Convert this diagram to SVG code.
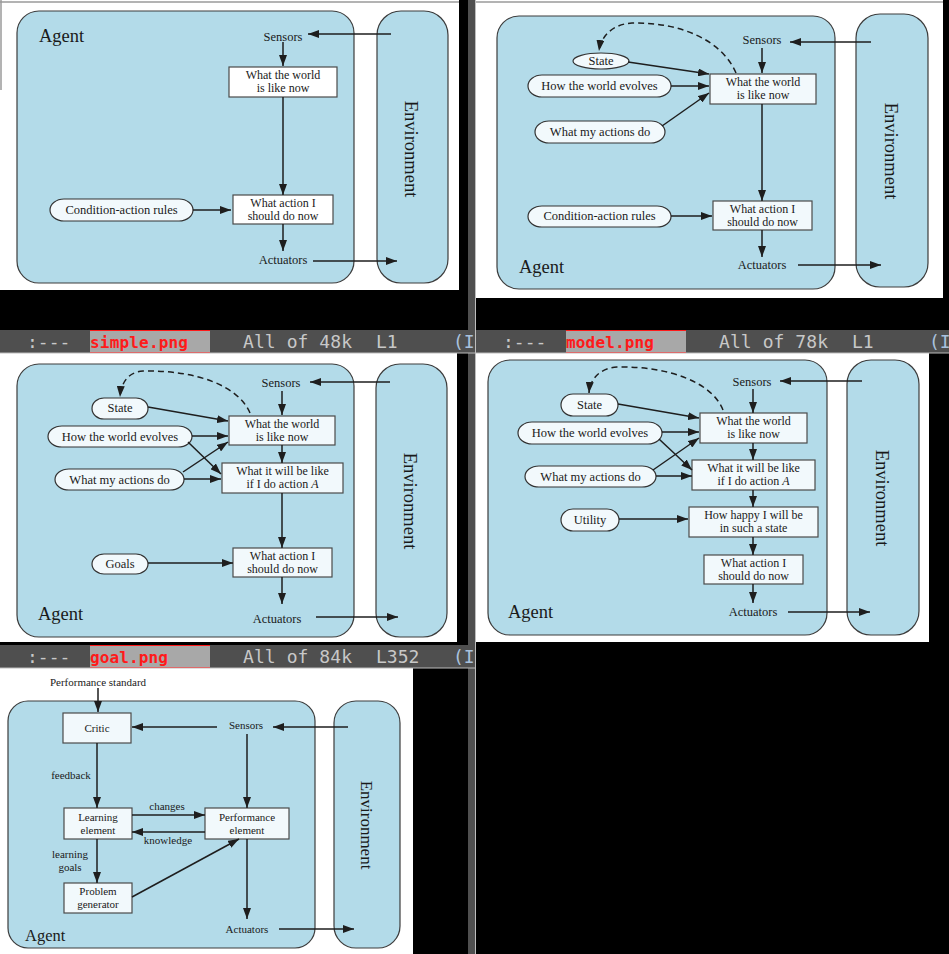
<svg xmlns="http://www.w3.org/2000/svg" width="949" height="954" viewBox="0 0 949 954">
<defs>
<marker id="ah" markerUnits="userSpaceOnUse" markerWidth="11" markerHeight="8" viewBox="0 0 11 8" refX="11" refY="4" orient="auto"><path d="M0,0 L11,4 L0,8 z" fill="#1e1e1e"/></marker>
<style>
.agent{fill:#b3dbe9;stroke:#3c3c3c;stroke-width:1.2}
.box{fill:#f2f9fc;stroke:#4a4a4a;stroke-width:1.2}
.wbox{fill:#ffffff;stroke:#4a4a4a;stroke-width:1.2}
.oval{fill:#f2f9fc;stroke:#333;stroke-width:1.2}
.t{font-family:"Liberation Serif","Times New Roman",serif;font-size:12.5px;fill:#1a1a1a;text-anchor:middle}
.b{font-size:12px}
.s{font-size:11px}
.ag{font-family:"Liberation Serif","Times New Roman",serif;font-size:18.5px;fill:#1a1a1a}
.env{font-family:"Liberation Serif","Times New Roman",serif;font-size:18.5px;fill:#1a1a1a;text-anchor:middle}
.c line,.c path{stroke:#1e1e1e;stroke-width:1.5;fill:none;marker-end:url(#ah)}
.c .d{stroke-dasharray:6,4}
.ml{font-family:"DejaVu Sans Mono",monospace;font-size:18px;fill:#c8c8c8}
.mn{font-family:"DejaVu Sans Mono",monospace;font-size:16px;font-weight:bold;fill:#ff1a1a}
.mi{fill:#a9c1dd}
</style>
</defs>
<rect x="0" y="0" width="949" height="954" fill="#000"/>
<!-- panel backgrounds -->
<rect x="0" y="0" width="459" height="290" fill="#fff"/>
<rect x="476" y="0" width="467" height="298" fill="#fff"/>
<rect x="0" y="353" width="457" height="289" fill="#fff"/>
<rect x="476" y="353" width="453" height="289" fill="#fff"/>
<rect x="0" y="668" width="413" height="286" fill="#fff"/>
<line x1="0" y1="2" x2="459" y2="2" stroke="#9a9a9a" stroke-width="1.5"/>
<line x1="476" y1="2" x2="943" y2="2" stroke="#9a9a9a" stroke-width="1.5"/>
<line x1="1" y1="0" x2="1" y2="90" stroke="#9a9a9a" stroke-width="1.5"/>
<!-- divider and mode lines -->
<rect x="468" y="0" width="8" height="954" fill="#4f4f4f"/>
<g id="modeline1">
<rect x="0" y="330" width="476" height="23" fill="#4f4f4f"/>
<rect x="90" y="330" width="120" height="23" fill="#a8a8a8"/>
<line x1="90" y1="330.5" x2="210" y2="330.5" stroke="#ff1a1a"/>
<line x1="90" y1="352.5" x2="210" y2="352.5" stroke="#ff1a1a"/>
<text class="ml" x="27" y="348">:---</text>
<text class="mn" x="90" y="348" textLength="98">simple.png</text>
<text class="ml" x="243" y="348" textLength="109">All of 48k</text>
<text class="ml" x="376" y="348">L1</text>
<text class="ml mi" x="453" y="348">(I</text>
</g>
<g id="modeline2">
<rect x="476" y="330" width="473" height="23" fill="#4f4f4f"/>
<rect x="566" y="330" width="120" height="23" fill="#a8a8a8"/>
<line x1="566" y1="330.5" x2="686" y2="330.5" stroke="#ff1a1a"/>
<line x1="566" y1="352.5" x2="686" y2="352.5" stroke="#ff1a1a"/>
<text class="ml" x="503" y="348">:---</text>
<text class="mn" x="566" y="348" textLength="88">model.png</text>
<text class="ml" x="719" y="348" textLength="109">All of 78k</text>
<text class="ml" x="852" y="348">L1</text>
<text class="ml mi" x="929" y="348">(I</text>
</g>
<g id="modeline3">
<rect x="0" y="645" width="476" height="23" fill="#4f4f4f"/>
<rect x="90" y="645" width="120" height="23" fill="#a8a8a8"/>
<line x1="90" y1="645.5" x2="210" y2="645.5" stroke="#ff1a1a"/>
<line x1="90" y1="667.5" x2="210" y2="667.5" stroke="#ff1a1a"/>
<text class="ml" x="27" y="663">:---</text>
<text class="mn" x="90" y="663" textLength="78">goal.png</text>
<text class="ml" x="243" y="663" textLength="109">All of 84k</text>
<text class="ml" x="376" y="663">L352</text>
<text class="ml mi" x="453" y="663">(I</text>
</g>
<line x1="0" y1="353" x2="949" y2="353" stroke="#bdbdbd" stroke-width="1"/>
<line x1="0" y1="668" x2="475" y2="668" stroke="#bdbdbd" stroke-width="1"/>
<line x1="475.5" y1="0" x2="475.5" y2="954" stroke="#bdbdbd" stroke-width="1"/>

<!-- ===== Panel 1: simple ===== -->
<g id="p1-agent"><rect class="agent" x="17" y="11" width="337" height="272" rx="22"/><text class="ag" x="39" y="42">Agent</text></g>
<g id="p1-env"><rect class="agent" x="377" y="11" width="71" height="272" rx="24"/><text class="env" transform="translate(411,149) rotate(90)" y="6">Environment</text></g>
<g id="p1-sensors"><text class="t" x="283" y="41">Sensors</text></g>
<g id="p1-world"><rect class="wbox" x="229" y="67" width="108" height="30"/><text class="t b" x="283" y="79">What the world</text><text class="t b" x="283" y="92">is like now</text></g>
<g id="p1-action"><rect class="wbox" x="233" y="195" width="100" height="29"/><text class="t b" x="283" y="207">What action I</text><text class="t b" x="283" y="220">should do now</text></g>
<g id="p1-rules"><rect class="oval" x="50" y="199" width="143" height="22" rx="14" ry="11"/><text class="t" x="121.5" y="214">Condition-action rules</text></g>
<g id="p1-actuators"><text class="t" x="283" y="264">Actuators</text></g>
<g class="c" id="p1-connectors">
<line x1="391" y1="34" x2="308" y2="34"/>
<line x1="283" y1="42" x2="283" y2="66"/>
<line x1="283" y1="97" x2="283" y2="195"/>
<line x1="193" y1="210" x2="231" y2="210"/>
<line x1="283" y1="224" x2="283" y2="251"/>
<line x1="313" y1="261" x2="397" y2="261"/>
</g>

<!-- ===== Panel 2: model ===== -->
<g id="p2-agent"><rect class="agent" x="497" y="16" width="338" height="273" rx="22"/><text class="ag" x="519" y="273">Agent</text></g>
<g id="p2-env"><rect class="agent" x="856" y="14" width="72" height="273" rx="24"/><text class="env" transform="translate(891,151) rotate(90)" y="6">Environment</text></g>
<g id="p2-sensors"><text class="t" x="762" y="44">Sensors</text></g>
<g id="p2-world"><rect class="box" x="710" y="74" width="106" height="30"/><text class="t b" x="763" y="86">What the world</text><text class="t b" x="763" y="99">is like now</text></g>
<g id="p2-state"><ellipse class="oval" cx="601" cy="61" rx="28" ry="8"/><text class="t" x="601" y="65">State</text></g>
<g id="p2-evolves"><rect class="oval" x="528" y="75" width="143" height="22" rx="14" ry="11"/><text class="t" x="599.5" y="90">How the world evolves</text></g>
<g id="p2-myactions"><rect class="oval" x="535" y="121" width="130" height="22" rx="14" ry="11"/><text class="t" x="600" y="136">What my actions do</text></g>
<g id="p2-action"><rect class="box" x="713" y="201" width="99" height="29"/><text class="t b" x="762.5" y="213">What action I</text><text class="t b" x="762.5" y="226">should do now</text></g>
<g id="p2-rules"><rect class="oval" x="528" y="206" width="143" height="21" rx="14" ry="10.5"/><text class="t" x="599.5" y="220">Condition-action rules</text></g>
<g id="p2-actuators"><text class="t" x="762" y="269">Actuators</text></g>
<g class="c" id="p2-connectors">
<line x1="871" y1="42" x2="790" y2="42"/>
<line x1="762" y1="48" x2="762" y2="73"/>
<path class="d" d="M736,73 C722,40 680,22 632,23 C613,24 601,36 599,51"/>
<line x1="628" y1="62" x2="709" y2="74"/>
<line x1="671" y1="86" x2="709" y2="86"/>
<line x1="662" y1="126" x2="709" y2="93"/>
<line x1="762" y1="104" x2="762" y2="201"/>
<line x1="671" y1="216" x2="712" y2="216"/>
<line x1="762" y1="230" x2="762" y2="257"/>
<line x1="798" y1="265" x2="881" y2="265"/>
</g>

<!-- ===== Panel 3: goal ===== -->
<g id="p3-agent"><rect class="agent" x="17" y="364" width="337" height="273" rx="22"/><text class="ag" x="38" y="620">Agent</text></g>
<g id="p3-env"><rect class="agent" x="376" y="364" width="71" height="273" rx="24"/><text class="env" transform="translate(410,501) rotate(90)" y="6">Environment</text></g>
<g id="p3-sensors"><text class="t" x="281" y="387">Sensors</text></g>
<g id="p3-world"><rect class="box" x="229" y="416" width="106" height="29"/><text class="t b" x="282" y="428">What the world</text><text class="t b" x="282" y="441">is like now</text></g>
<g id="p3-state"><rect class="oval" x="92" y="398" width="56" height="21" rx="12" ry="10.5"/><text class="t" x="120" y="412">State</text></g>
<g id="p3-evolves"><rect class="oval" x="48" y="426" width="144" height="21" rx="14" ry="10.5"/><text class="t" x="120" y="441">How the world evolves</text></g>
<g id="p3-myactions"><rect class="oval" x="55" y="469" width="129" height="21" rx="14" ry="10.5"/><text class="t" x="119.5" y="484">What my actions do</text></g>
<g id="p3-willbe"><rect class="box" x="222" y="463" width="121" height="30"/><text class="t b" x="282.5" y="475">What it will be like</text><text class="t b" x="282.5" y="488">if I do action <tspan font-style="italic">A</tspan></text></g>
<g id="p3-action"><rect class="box" x="233" y="548" width="99" height="29"/><text class="t b" x="282.5" y="560">What action I</text><text class="t b" x="282.5" y="573">should do now</text></g>
<g id="p3-goals"><rect class="oval" x="92" y="554" width="56" height="20" rx="12" ry="10"/><text class="t" x="120" y="568">Goals</text></g>
<g id="p3-actuators"><text class="t" x="277" y="623">Actuators</text></g>
<g class="c" id="p3-connectors">
<line x1="390" y1="382" x2="310" y2="382"/>
<line x1="282" y1="391" x2="282" y2="415"/>
<path class="d" d="M250,413 C238,385 195,370 143,371 C128,372 121,383 120,397"/>
<line x1="148" y1="407" x2="228" y2="421"/>
<line x1="192" y1="436" x2="228" y2="436"/>
<line x1="188" y1="442" x2="221" y2="474"/>
<line x1="183" y1="472" x2="228" y2="442"/>
<line x1="184" y1="479" x2="221" y2="479"/>
<line x1="282" y1="445" x2="282" y2="463"/>
<line x1="282" y1="493" x2="282" y2="548"/>
<line x1="148" y1="563" x2="233" y2="563"/>
<line x1="282" y1="577" x2="282" y2="604"/>
<line x1="316" y1="617" x2="398" y2="617"/>
</g>

<!-- ===== Panel 4: utility ===== -->
<g id="p4-agent"><rect class="agent" x="488" y="360" width="339" height="275" rx="22"/><text class="ag" x="508" y="618">Agent</text></g>
<g id="p4-env"><rect class="agent" x="847" y="360" width="72" height="275" rx="24"/><text class="env" transform="translate(882,498) rotate(90)" y="6">Environment</text></g>
<g id="p4-sensors"><text class="t" x="752" y="386">Sensors</text></g>
<g id="p4-world"><rect class="box" x="700" y="413" width="107" height="30"/><text class="t b" x="753.5" y="425">What the world</text><text class="t b" x="753.5" y="438">is like now</text></g>
<g id="p4-state"><rect class="oval" x="561" y="394" width="57" height="22" rx="12" ry="11"/><text class="t" x="589.5" y="409">State</text></g>
<g id="p4-evolves"><rect class="oval" x="518" y="422" width="144" height="22" rx="14" ry="11"/><text class="t" x="590" y="437">How the world evolves</text></g>
<g id="p4-myactions"><rect class="oval" x="525" y="466" width="131" height="21" rx="14" ry="10.5"/><text class="t" x="590.5" y="481">What my actions do</text></g>
<g id="p4-willbe"><rect class="box" x="692" y="460" width="123" height="30"/><text class="t b" x="753.5" y="472">What it will be like</text><text class="t b" x="753.5" y="485">if I do action <tspan font-style="italic">A</tspan></text></g>
<g id="p4-happy"><rect class="box" x="689" y="507" width="129" height="30"/><text class="t b" x="753.5" y="519">How happy I will be</text><text class="t b" x="753.5" y="532">in such a state</text></g>
<g id="p4-utility"><rect class="oval" x="561" y="509" width="58" height="22" rx="12" ry="11"/><text class="t" x="590" y="524">Utility</text></g>
<g id="p4-action"><rect class="box" x="704" y="555" width="99" height="29"/><text class="t b" x="753.5" y="567">What action I</text><text class="t b" x="753.5" y="580">should do now</text></g>
<g id="p4-actuators"><text class="t" x="753" y="616">Actuators</text></g>
<g class="c" id="p4-connectors">
<line x1="862" y1="381" x2="780" y2="381"/>
<line x1="753" y1="389" x2="753" y2="413"/>
<path class="d" d="M723,410 C712,382 668,366 617,367 C600,368 590,379 589,393"/>
<line x1="618" y1="404" x2="699" y2="418"/>
<line x1="662" y1="432" x2="699" y2="432"/>
<line x1="659" y1="439" x2="692" y2="470"/>
<line x1="653" y1="470" x2="699" y2="438"/>
<line x1="656" y1="476" x2="692" y2="476"/>
<line x1="753" y1="443" x2="753" y2="460"/>
<line x1="753" y1="490" x2="753" y2="507"/>
<line x1="619" y1="519" x2="688" y2="519"/>
<line x1="753" y1="537" x2="753" y2="555"/>
<line x1="753" y1="584" x2="753" y2="603"/>
<line x1="788" y1="612" x2="870" y2="612"/>
</g>

<!-- ===== Panel 5: learning ===== -->
<g id="p5-standard"><text class="t s" x="98" y="686">Performance standard</text></g>
<g id="p5-agent"><rect class="agent" x="8" y="701" width="307" height="247" rx="20"/><text class="ag" x="25" y="941" style="font-size:16.5px">Agent</text></g>
<g id="p5-env"><rect class="agent" x="334" y="701" width="66" height="247" rx="22"/><text class="env" transform="translate(366,825) rotate(90)" y="5.5" style="font-size:17px">Environment</text></g>
<g id="p5-critic"><rect class="box" x="63" y="713" width="68" height="30"/><text class="t s" x="97" y="732">Critic</text></g>
<g id="p5-sensors"><text class="t s" x="246" y="729">Sensors</text></g>
<g id="p5-learning"><rect class="box" x="64" y="808" width="68" height="31"/><text class="t s" x="98" y="821">Learning</text><text class="t s" x="98" y="834">element</text></g>
<g id="p5-performance"><rect class="box" x="205" y="808" width="84" height="31"/><text class="t s" x="247" y="821">Performance</text><text class="t s" x="247" y="834">element</text></g>
<g id="p5-problem"><rect class="box" x="64" y="883" width="68" height="30"/><text class="t s" x="98" y="895">Problem</text><text class="t s" x="98" y="908">generator</text></g>
<g id="p5-actuators"><text class="t s" x="247" y="933">Actuators</text></g>
<g id="p5-labels">
<text class="t s" x="71" y="779">feedback</text>
<text class="t s" x="167" y="810">changes</text>
<text class="t s" x="168" y="844">knowledge</text>
<text class="t s" x="70" y="858">learning</text>
<text class="t s" x="70" y="871">goals</text>
</g>
<g class="c" id="p5-connectors">
<line x1="98" y1="688" x2="98" y2="712"/>
<line x1="217" y1="727" x2="132" y2="727"/>
<line x1="348" y1="727" x2="273" y2="727"/>
<line x1="97" y1="743" x2="97" y2="808"/>
<line x1="247" y1="734" x2="247" y2="808"/>
<line x1="132" y1="815" x2="205" y2="815"/>
<line x1="205" y1="832" x2="132" y2="832"/>
<line x1="97" y1="839" x2="97" y2="883"/>
<line x1="132" y1="897" x2="239" y2="839"/>
<line x1="247" y1="839" x2="247" y2="919"/>
<line x1="279" y1="929" x2="354" y2="929"/>
</g>
</svg>
